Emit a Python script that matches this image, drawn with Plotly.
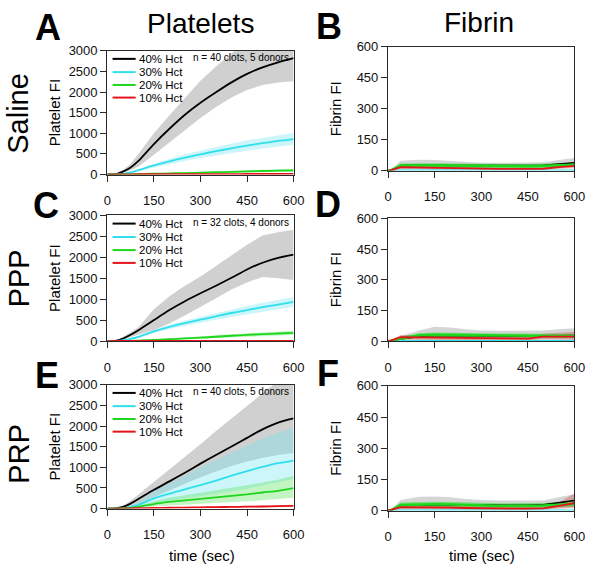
import plotly.graph_objects as go

W, H = 600, 575
FONT = "Liberation Sans, Arial, sans-serif"

# ---------------- data ----------------
T_PLT = [0, 25, 50, 75, 100, 150, 200, 250, 300, 350, 400, 450, 500, 550, 600]
T_FIB = [0, 10, 40, 100, 150, 200, 250, 300, 350, 400, 450, 500, 550, 600]
SERIES = ["40% Hct", "30% Hct", "20% Hct", "10% Hct"]

# Saline platelets (A)
sal40 = [0, 5, 70, 170, 330, 740, 1110, 1450, 1740, 1995, 2235, 2440, 2600, 2720, 2820]
sal40_lo = [0, 3, 30, 100, 190, 480, 760, 1070, 1370, 1640, 1870, 2050, 2170, 2230, 2265]
sal40_hi = [0, 8, 110, 260, 500, 1000, 1440, 1870, 2275, 2620, 2940, 3250, 3450, 3550, 3600]
sal30 = [0, 2, 15, 50, 105, 220, 320, 410, 490, 565, 635, 700, 760, 815, 860]
sal30_lo = [0, 1, 8, 35, 80, 170, 255, 330, 400, 460, 520, 575, 630, 680, 720]
sal30_hi = [0, 3, 22, 65, 130, 270, 385, 490, 580, 670, 750, 830, 895, 955, 1010]
sal20 = [0, 0, 2, 5, 10, 18, 27, 36, 45, 55, 65, 75, 85, 93, 100]
sal20_lo = [0, 0, 0, 2, 5, 10, 15, 20, 26, 32, 38, 44, 50, 55, 60]
sal20_hi = [0, 1, 4, 9, 15, 26, 39, 52, 64, 78, 92, 106, 120, 131, 140]
sal10 = [0, 2, 4, 5, 6, 7, 8, 9, 10, 10, 11, 12, 12, 13, 14]
sal10_lo = [0, 1, 2, 3, 3, 4, 4, 5, 5, 5, 6, 6, 6, 7, 7]
sal10_hi = [0, 3, 6, 7, 9, 10, 12, 13, 15, 15, 16, 18, 18, 19, 21]

# PPP platelets (C)
ppp40 = [0, 5, 60, 150, 260, 500, 740, 950, 1140, 1320, 1510, 1710, 1870, 1985, 2065]
ppp40_lo = [0, 3, 30, 90, 150, 260, 420, 610, 810, 1020, 1230, 1400, 1530, 1500, 1460]
ppp40_hi = [0, 8, 90, 210, 330, 760, 1070, 1320, 1540, 1790, 2040, 2300, 2520, 2600, 2660]
ppp30 = [0, 2, 15, 50, 100, 230, 340, 430, 510, 590, 670, 740, 810, 870, 935]
ppp30_lo = [0, 1, 10, 38, 80, 195, 290, 370, 440, 510, 580, 645, 705, 760, 820]
ppp30_hi = [0, 3, 20, 62, 120, 265, 390, 490, 580, 670, 760, 835, 915, 980, 1050]
ppp20 = [0, 0, 2, 6, 12, 28, 45, 62, 80, 103, 127, 147, 166, 180, 195]
ppp20_lo = [0, 0, 0, 2, 5, 15, 28, 40, 55, 72, 92, 108, 122, 133, 145]
ppp20_hi = [0, 1, 4, 10, 19, 41, 62, 84, 105, 134, 162, 186, 210, 227, 245]
ppp10 = [0, 1, 2, 3, 3, 4, 4, 5, 5, 5, 5, 6, 6, 6, 6]
ppp10_lo = [0, 0, 0, 1, 1, 1, 1, 2, 2, 2, 2, 3, 3, 3, 3]
ppp10_hi = [0, 2, 4, 5, 5, 7, 7, 8, 8, 8, 8, 9, 9, 9, 9]

# PRP platelets (E)
prp40 = [0, 5, 40, 120, 230, 455, 660, 870, 1090, 1300, 1505, 1715, 1920, 2085, 2185]
prp40_lo = [0, 2, 15, 55, 110, 280, 440, 600, 760, 900, 1030, 1140, 1230, 1300, 1345]
prp40_hi = [0, 8, 65, 190, 340, 640, 950, 1260, 1560, 1880, 2190, 2490, 2790, 3100, 3400]
prp30 = [0, 2, 10, 40, 90, 245, 360, 465, 570, 680, 800, 910, 1010, 1100, 1165]
prp30_lo = [0, 1, 5, 20, 40, 120, 180, 240, 300, 360, 420, 480, 560, 640, 720]
prp30_hi = [0, 3, 18, 65, 150, 420, 620, 820, 1000, 1180, 1360, 1530, 1700, 1840, 1960]
prp20 = [0, 1, 5, 18, 40, 110, 160, 200, 235, 270, 310, 345, 390, 430, 495]
prp20_lo = [0, 0, 2, 8, 18, 50, 75, 95, 115, 135, 155, 175, 200, 225, 260]
prp20_hi = [0, 2, 10, 30, 70, 180, 260, 320, 380, 440, 500, 560, 630, 700, 790]
prp10 = [0, 1, 3, 5, 10, 15, 20, 25, 30, 35, 40, 45, 50, 57, 65]
prp10_lo = [0, 0, 1, 2, 4, 7, 10, 13, 16, 19, 22, 25, 28, 32, 36]
prp10_hi = [0, 2, 5, 8, 16, 23, 30, 37, 44, 51, 58, 65, 72, 82, 94]

# Saline fibrin (B)
fsal40 = [0, 2, 25, 28, 27, 25, 24, 24, 24, 24, 24, 26, 32, 38]
fsal40_lo = [0, 0, 5, 5, 5, 5, 6, 8, 8, 8, 8, 10, 14, 17]
fsal40_hi = [0, 4, 48, 53, 52, 48, 42, 38, 38, 38, 38, 40, 52, 61]
fsal30 = [0, 1, 2, 2, 2, 2, 2, 2, 2, 2, 2, 2, 2, 2]
fsal30_lo = [0, 0, 0, 0, 0, 0, 0, 0, 0, 0, 0, 0, 0, 0]
fsal30_hi = [0, 2, 4, 4, 4, 4, 4, 4, 4, 4, 4, 4, 4, 4]
fsal20 = [0, 2, 24, 26, 26, 24, 23, 22, 22, 22, 22, 23, 26, 28]
fsal20_lo = [0, 0, 14, 16, 16, 14, 13, 12, 12, 12, 12, 13, 16, 18]
fsal20_hi = [0, 4, 34, 36, 36, 34, 33, 32, 32, 32, 32, 33, 36, 38]
fsal10 = [0, 2, 17, 15, 13, 10, 9, 8, 8, 8, 8, 9, 17, 23]
fsal10_lo = [0, 0, 10, 8, 6, 4, 3, 2, 2, 2, 2, 3, 8, 12]
fsal10_hi = [0, 4, 24, 22, 20, 16, 15, 14, 14, 14, 14, 15, 26, 34]

# PPP fibrin (D)
fppp40 = [0, 1, 10, 22, 27, 26, 25, 24, 24, 24, 24, 25, 27, 27]
fppp40_lo = [0, 0, 2, 4, 6, 6, 6, 5, 5, 5, 5, 6, 6, 6]
fppp40_hi = [0, 3, 25, 52, 70, 66, 58, 52, 50, 50, 50, 52, 58, 62]
fppp30 = [0, 1, 1, 2, 2, 2, 2, 2, 2, 2, 2, 2, 2, 2]
fppp30_lo = [0, 0, 0, 0, 0, 0, 0, 0, 0, 0, 0, 0, 0, 0]
fppp30_hi = [0, 2, 3, 4, 4, 4, 4, 4, 4, 4, 4, 4, 4, 4]
fppp20 = [0, 1, 12, 28, 30, 29, 28, 27, 27, 27, 27, 26, 25, 25]
fppp20_lo = [0, 0, 5, 18, 20, 19, 18, 17, 17, 17, 17, 16, 15, 15]
fppp20_hi = [0, 2, 20, 38, 42, 40, 38, 37, 37, 37, 37, 36, 35, 35]
fppp10 = [0, 3, 19, 18, 16, 14, 13, 12, 12, 12, 12, 22, 23, 22]
fppp10_lo = [0, 1, 10, 8, 6, 5, 4, 4, 4, 4, 4, 10, 8, 6]
fppp10_hi = [0, 5, 30, 30, 28, 24, 22, 20, 20, 20, 20, 36, 42, 45]

# PRP fibrin (F)
fprp40 = [0, 2, 26, 28, 28, 27, 26, 25, 25, 25, 25, 27, 38, 48]
fprp40_lo = [0, 0, 4, 6, 6, 6, 6, 6, 6, 6, 6, 6, 12, 16]
fprp40_hi = [0, 4, 50, 66, 67, 64, 56, 50, 48, 48, 48, 48, 64, 78]
fprp30 = [0, 1, 2, 2, 2, 2, 2, 2, 2, 2, 2, 2, 2, 2]
fprp30_lo = [0, 0, 0, 0, 0, 0, 0, 0, 0, 0, 0, 0, 0, 0]
fprp30_hi = [0, 2, 4, 4, 4, 4, 4, 4, 4, 4, 4, 4, 4, 4]
fprp20 = [0, 2, 26, 30, 30, 29, 26, 24, 23, 23, 23, 24, 28, 32]
fprp20_lo = [0, 0, 14, 18, 18, 17, 14, 12, 11, 11, 11, 12, 16, 20]
fprp20_hi = [0, 4, 38, 42, 42, 41, 38, 36, 35, 35, 35, 36, 40, 44]
fprp10 = [0, 3, 16, 16, 15, 14, 12, 10, 9, 9, 9, 10, 22, 36]
fprp10_lo = [0, 1, 8, 7, 6, 5, 4, 3, 3, 3, 3, 4, 8, 12]
fprp10_hi = [0, 5, 26, 26, 25, 23, 20, 18, 17, 17, 17, 18, 40, 82]

X_TICKS = [0, 150, 300, 450, 600]
PLT_TICKS = [0, 500, 1000, 1500, 2000, 2500, 3000]
FIB_TICKS = [0, 150, 300, 450, 600]

# ---------------- styling ----------------
LINE_COLORS = ["#000000", "#2fe0ec", "#1fd61f", "#e5141b"]
BAND_COLORS = ["rgba(150,150,150,0.45)", "rgba(110,230,240,0.35)",
               "rgba(80,225,80,0.35)", "rgba(225,80,80,0.30)"]
FIB_BAND_COLORS = ["rgba(150,150,150,0.40)", "rgba(110,230,240,0.35)",
                   "rgba(40,225,40,0.55)", "rgba(200,70,60,0.35)"]


def px_x(p):
    return p / W


def px_y(p):
    return 1 - p / H


panels = [
    dict(box=(106, 297, 45, 172), t=T_PLT, kind="plt", note="n = 40 clots, 5 donors",
         data=[(sal40, sal40_lo, sal40_hi), (sal30, sal30_lo, sal30_hi),
               (sal20, sal20_lo, sal20_hi), (sal10, sal10_lo, sal10_hi)]),
    dict(box=(394, 585, 41, 168), t=T_FIB, kind="fib",
         data=[(fsal40, fsal40_lo, fsal40_hi), (fsal30, fsal30_lo, fsal30_hi),
               (fsal20, fsal20_lo, fsal20_hi), (fsal10, fsal10_lo, fsal10_hi)]),
    dict(box=(106, 297, 214, 343), t=T_PLT, kind="plt", note="n = 32 clots, 4 donors",
         data=[(ppp40, ppp40_lo, ppp40_hi), (ppp30, ppp30_lo, ppp30_hi),
               (ppp20, ppp20_lo, ppp20_hi), (ppp10, ppp10_lo, ppp10_hi)]),
    dict(box=(394, 585, 217, 343), t=T_FIB, kind="fib",
         data=[(fppp40, fppp40_lo, fppp40_hi), (fppp30, fppp30_lo, fppp30_hi),
               (fppp20, fppp20_lo, fppp20_hi), (fppp10, fppp10_lo, fppp10_hi)]),
    dict(box=(106, 297, 388, 515), t=T_PLT, kind="plt", note="n = 40 clots, 5 donors",
         data=[(prp40, prp40_lo, prp40_hi), (prp30, prp30_lo, prp30_hi),
               (prp20, prp20_lo, prp20_hi), (prp10, prp10_lo, prp10_hi)]),
    dict(box=(394, 585, 389, 517), t=T_FIB, kind="fib",
         data=[(fprp40, fprp40_lo, fprp40_hi), (fprp30, fprp30_lo, fprp30_hi),
               (fprp20, fprp20_lo, fprp20_hi), (fprp10, fprp10_lo, fprp10_hi)]),
]

fig = go.Figure()
annotations = []
shapes = []
layout_axes = {}


def note(text, x, y, size, angle=0, xanchor="center", yanchor="middle", xref="paper", yref="paper"):
    return dict(text=text, x=x, y=y, xref=xref, yref=yref, textangle=angle,
                xanchor=xanchor, yanchor=yanchor, showarrow=False,
                font=dict(family=FONT, size=size, color="black"))


for i, p in enumerate(panels, start=1):
    xs = "" if i == 1 else str(i)
    xref, yref = "x" + xs, "y" + xs
    x0, x1, y0, y1 = p["box"]
    t = p["t"]
    plt = p["kind"] == "plt"
    bands = BAND_COLORS if plt else FIB_BAND_COLORS

    # bands
    for k, (m, lo, hi) in enumerate(p["data"]):
        fig.add_trace(go.Scatter(
            x=list(t) + list(t)[::-1], y=list(hi) + list(lo)[::-1],
            fill="toself", fillcolor=bands[k], line=dict(width=0),
            mode="lines", hoverinfo="skip", showlegend=False,
            xaxis=xref, yaxis=yref))
    # lines
    widths = [1.8, 1.8, 1.8, 1.8] if plt else [1.6, 1.2, 2.6, 1.8]
    for k, (m, lo, hi) in enumerate(p["data"]):
        fig.add_trace(go.Scatter(
            x=t, y=m, mode="lines", name=SERIES[k],
            line=dict(color=LINE_COLORS[k], width=widths[k],
                      shape="spline" if plt else "linear", smoothing=0.7),
            showlegend=False, xaxis=xref, yaxis=yref))

    axis_common = dict(showline=True, linewidth=1.4, linecolor="#2a2a2a", mirror=True,
                       ticks="outside", ticklen=6, tickwidth=1.3, tickcolor="#2a2a2a",
                       showgrid=False, zeroline=False,
                       tickfont=dict(family=FONT, size=13, color="#111111"))
    layout_axes["xaxis" + xs] = dict(axis_common, domain=[px_x(x0), px_x(x1)],
                                     anchor=yref, range=[0, 600], tickvals=X_TICKS,
                                     ticklabelstandoff=8)
    if plt:
        layout_axes["yaxis" + xs] = dict(axis_common, domain=[px_y(y1), px_y(y0)],
                                         anchor=xref, range=[0, 3000], tickvals=PLT_TICKS)
    else:
        layout_axes["yaxis" + xs] = dict(axis_common, domain=[px_y(y1), px_y(y0)],
                                         anchor=xref, range=[0, 600], tickvals=FIB_TICKS)

    # y-axis title
    annotations.append(note("Platelet FI" if plt else "Fibrin FI",
                            px_x(x0 - 54), px_y((y0 + y1) / 2), 15, angle=-90))

    if plt:
        rows = [0.935, 0.828, 0.724, 0.622]
        for k in range(4):
            shapes.append(dict(type="line", xref=xref + " domain", yref=yref + " domain",
                               x0=0.028, x1=0.152, y0=rows[k], y1=rows[k],
                               line=dict(color=LINE_COLORS[k], width=2)))
            annotations.append(note(SERIES[k], 0.158, rows[k], 11.5, xanchor="left",
                                    xref=xref + " domain", yref=yref + " domain"))
        annotations.append(note(p["note"], 0.985, 0.945, 10, xanchor="right",
                                xref=xref + " domain", yref=yref + " domain"))

# x-axis titles
for cx in (203, 490):
    annotations.append(note("time (sec)", px_x(cx), px_y(563), 15))

# panel letters
for letter, cx, cy in [("A", 45, 21), ("B", 333, 20), ("C", 43, 204),
                       ("D", 332, 203), ("E", 44, 378), ("F", 332, 376)]:
    annotations.append(note("<b>" + letter + "</b>", px_x(cx), px_y(cy), 36))

# column titles
annotations.append(note("Platelets", px_x(202), px_y(17), 28))
annotations.append(note("Fibrin", px_x(487), px_y(16), 28))

# row titles
for txt, cy in [("Saline", 109), ("PPP", 279), ("PRP", 459)]:
    annotations.append(note(txt, px_x(15), px_y(cy), 29, angle=-90))

fig.update_layout(
    width=W, height=H, margin=dict(l=0, r=0, t=0, b=0),
    paper_bgcolor="white", plot_bgcolor="white",
    showlegend=False, annotations=annotations, shapes=shapes,
    font=dict(family=FONT), **layout_axes)

fig.write_html("out.html", config={"displayModeBar": False},
               post_script="document.body.style.margin='0px';")
